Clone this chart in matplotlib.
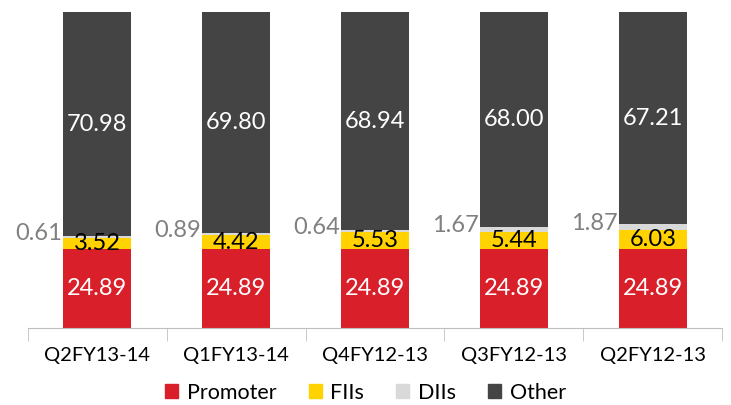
import numpy as np
import matplotlib.pyplot as plt
from matplotlib.patches import Patch

plt.rcParams['font.family'] = ['Lato', 'DejaVu Sans']

quarters = ["Q2FY13-14", "Q1FY13-14", "Q4FY12-13", "Q3FY12-13", "Q2FY12-13"]
promoter = [24.89, 24.89, 24.89, 24.89, 24.89]
fiis = [3.52, 4.42, 5.53, 5.44, 6.03]
diis = [0.61, 0.89, 0.64, 1.67, 1.87]
other = [70.98, 69.80, 68.94, 68.00, 67.21]

c_prom = "#D9202A"
c_fii = "#FFD200"
c_dii = "#D9D9D9"
c_oth = "#444444"

fig = plt.figure(figsize=(7.31, 4.05), dpi=100)
ax = fig.add_axes([0.038, 0.19, 0.95, 0.78])

x = np.arange(len(quarters))
w = 0.49
b1 = np.array(promoter)
b2 = b1 + np.array(fiis)
b3 = b2 + np.array(diis)

ax.bar(x, promoter, w, color=c_prom)
ax.bar(x, fiis, w, bottom=b1, color=c_fii)
ax.bar(x, diis, w, bottom=b2, color=c_dii)
ax.bar(x, other, w, bottom=b3, color=c_oth)

fs = 17
for i in range(len(x)):
    ax.text(x[i], promoter[i] / 2, f"{promoter[i]:.2f}", ha="center", va="center",
            color="white", fontsize=fs)
    ax.text(x[i], b1[i] + fiis[i] / 2, f"{fiis[i]:.2f}", ha="center", va="center",
            color="black", fontsize=fs)
    ax.text(x[i] - w / 2 - 0.01, b2[i] + diis[i] / 2 + 1.2, f"{diis[i]:.2f}", ha="right",
            va="center", color="#808080", fontsize=fs)
    ax.text(x[i], b3[i] + other[i] / 2, f"{other[i]:.2f}", ha="center", va="center",
            color="white", fontsize=fs)

ax.set_xlim(-0.5, len(x) - 0.5)
ax.set_ylim(0, 100)
for s in ["top", "right", "left"]:
    ax.spines[s].set_visible(False)
ax.spines["bottom"].set_color("#BFBFBF")
ax.set_yticks([])
ax.set_xticks(x)
ax.set_xticklabels(quarters, fontsize=14.5)
ax.tick_params(axis="x", which="major", length=0, pad=14)
ax.set_xticks(np.arange(-0.5, len(x)), minor=True)
ax.tick_params(axis="x", which="minor", length=9, color="#BFBFBF")

handles = [Patch(color=c_prom, label="Promoter"), Patch(color=c_fii, label="FIIs"),
           Patch(color=c_dii, label="DIIs"), Patch(color=c_oth, label="Other")]
fig.legend(handles=handles, loc="center", bbox_to_anchor=(0.5, 0.03), ncol=4,
           frameon=False, fontsize=15.5, handlelength=0.6, handleheight=0.6,
           handletextpad=0.4, columnspacing=1.5)

fig.savefig("out.png", dpi=100)
